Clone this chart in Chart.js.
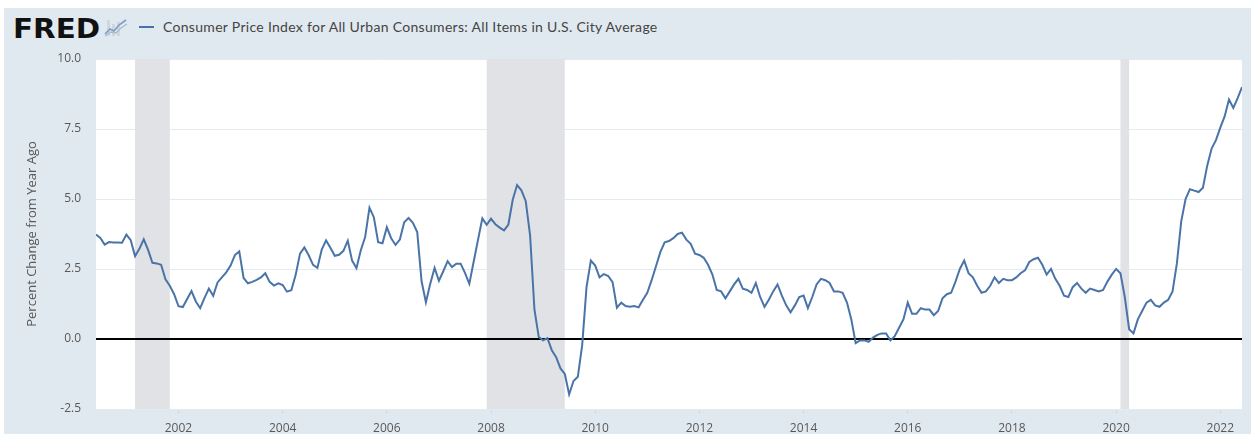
<!DOCTYPE html>
<html>
<head>
<meta charset="utf-8">
<script src="https://cdn.jsdelivr.net/npm/chart.js@4.4.1/dist/chart.umd.min.js"></script>
<style>
  body { margin: 0; background: #fff; width: 1251px; height: 434px; overflow: hidden; position: relative; }
  #panel { position: absolute; left: 4px; top: 8px; width: 1247px; height: 426px; background: #e1e9f0; }
  #chart { position: absolute; left: 0; top: 0; }
  #logo { position: absolute; left: 13px; top: 14px; font-family: "DejaVu Sans", sans-serif; font-weight: bold; font-size: 26px; letter-spacing: 0px; color: #111; transform: scaleX(1.13); transform-origin: left top; }
  #icon { position: absolute; left: 104px; top: 16px; }
  #legend { position: absolute; left: 139px; top: 18px; font-family: Lato, sans-serif; font-size: 14px; letter-spacing: 0.3px; color: #444; white-space: nowrap; }
  #legend .swatch { display: inline-block; width: 15px; height: 2px; background: #4572a7; vertical-align: middle; margin-right: 9px; position: relative; top: -1px; }
</style>
</head>
<body>
<div id="panel"></div>
<div id="logo">FRED</div>
<svg id="icon" width="24" height="22" viewBox="0 0 24 22">
  <rect x="3" y="4" width="3" height="16" fill="#cfd6de"/>
  <rect x="8" y="8" width="3" height="12" fill="#cfd6de"/>
  <rect x="13" y="6" width="3" height="14" fill="#cfd6de"/>
  <polyline points="1,18 6,13 10,15 15,9 22,4" fill="none" stroke="#7f9cc2" stroke-width="1.6"/>
  <polyline points="1,20 7,16 12,17 17,12 23,8" fill="none" stroke="#a9bbd2" stroke-width="1.3"/>
</svg>
<div id="legend"><span class="swatch"></span>Consumer Price Index for All Urban Consumers: All Items in U.S. City Average</div>
<canvas id="chart" width="1251" height="434"></canvas>
<script>
// CPI-U, percent change from year ago, monthly from June 2000
const startYear = 2000;
const startMonth = 6;

const cpi2000s = [
  3.73, 3.61, 3.37, 3.46, 3.45, 3.45, 3.44,
  3.73, 3.53, 2.96, 3.22, 3.56, 3.18, 2.72, 2.70, 2.65, 2.13, 1.90, 1.60,
  1.17, 1.14, 1.43, 1.71, 1.34, 1.10, 1.47, 1.80, 1.54, 2.02, 2.20, 2.38,
  2.62, 3.00, 3.13, 2.18, 1.99, 2.04, 2.11, 2.20, 2.35, 2.04, 1.91, 1.99,
  1.93, 1.69, 1.74, 2.29, 3.05, 3.27, 2.99, 2.65, 2.54, 3.19, 3.52, 3.26,
  2.97, 3.01, 3.15, 3.51, 2.80, 2.53, 3.17, 3.64, 4.69, 4.35, 3.46, 3.42,
  3.99, 3.60, 3.36, 3.55, 4.17, 4.32, 4.15, 3.82, 2.06, 1.31, 1.97, 2.54,
  2.08, 2.42, 2.78, 2.57, 2.69, 2.69, 2.36, 1.97, 2.76, 3.54, 4.31, 4.08,
  4.30, 4.10, 3.98, 3.88, 4.09, 4.97, 5.50, 5.31, 4.92, 3.70, 1.06, 0.07,
  -0.05, 0.03, -0.40, -0.65, -1.05, -1.25, -1.98, -1.50, -1.35, -0.22, 1.85, 2.80
];
const cpi2010s = [
  2.62, 2.20, 2.32, 2.25, 2.03, 1.12, 1.30, 1.18, 1.15, 1.18, 1.13, 1.40,
  1.65, 2.10, 2.60, 3.10, 3.45, 3.50, 3.60, 3.75, 3.80, 3.55, 3.40, 3.05,
  3.00, 2.90, 2.65, 2.30, 1.75, 1.70, 1.45, 1.70, 1.95, 2.15, 1.80, 1.75,
  1.65, 2.00, 1.50, 1.15, 1.40, 1.70, 1.95, 1.55, 1.20, 0.95, 1.20, 1.50,
  1.55, 1.10, 1.50, 1.95, 2.15, 2.10, 2.00, 1.70, 1.70, 1.65, 1.30, 0.70,
  -0.15, -0.05, -0.05, -0.10, 0.05, 0.15, 0.20, 0.20, -0.05, 0.10, 0.40, 0.70,
  1.30, 0.90, 0.90, 1.10, 1.05, 1.05, 0.85, 1.00, 1.45, 1.60, 1.65, 2.05,
  2.50, 2.80, 2.35, 2.20, 1.90, 1.65, 1.70, 1.90, 2.20, 2.00, 2.15, 2.10,
  2.10, 2.20, 2.35, 2.45, 2.75, 2.85, 2.90, 2.65, 2.30, 2.50, 2.15, 1.90,
  1.55, 1.50, 1.85, 2.00, 1.80, 1.65, 1.80, 1.75, 1.70, 1.75, 2.05, 2.30
];
const cpi2020s = [
  2.50, 2.35, 1.50, 0.35, 0.20, 0.70, 1.00, 1.30, 1.40, 1.20, 1.15, 1.30,
  1.40, 1.70, 2.70, 4.20, 5.00, 5.35, 5.30, 5.25, 5.40, 6.20, 6.80, 7.10,
  7.55, 7.95, 8.55, 8.25, 8.60, 9.00
];

// NBER recessions (peak month, trough month)
const recessions = [
  ['2001-03', '2001-11'],
  ['2007-12', '2009-06'],
  ['2020-02', '2020-04']
];

const xTickYears = [2002, 2004, 2006, 2008, 2010, 2012, 2014, 2016, 2018, 2020, 2022];
const yTicks = [-2.5, 0, 2.5, 5, 7.5, 10];

const seriesLabel = 'Consumer Price Index for All Urban Consumers: All Items in U.S. City Average';

function monthToYear(s) {
  const parts = s.split('-');
  return Number(parts[0]) + (Number(parts[1]) - 1) / 12;
}

const values = cpi2000s.concat(cpi2010s, cpi2020s);
const points = values.map((v, i) => ({
  x: startYear + (startMonth - 1 + i) / 12,
  y: v
}));

const shadingPlugin = {
  id: 'fredShading',
  beforeDraw(chart) {
    const a = chart.chartArea;
    const ctx = chart.ctx;
    ctx.save();
    ctx.fillStyle = '#ffffff';
    ctx.fillRect(a.left, a.top, a.right - a.left, a.bottom - a.top);
    ctx.restore();
  },
  beforeDatasetsDraw(chart) {
    const a = chart.chartArea;
    const ctx = chart.ctx;
    const xs = chart.scales.x;
    const ys = chart.scales.y;
    ctx.save();
    ctx.fillStyle = '#e1e2e6';
    recessions.forEach(r => {
      const x1 = Math.max(a.left, xs.getPixelForValue(monthToYear(r[0])));
      const x2 = Math.min(a.right, xs.getPixelForValue(monthToYear(r[1])));
      ctx.fillRect(x1, a.top, x2 - x1, a.bottom - a.top);
    });
    const y0 = ys.getPixelForValue(0);
    ctx.strokeStyle = '#000000';
    ctx.lineWidth = 2;
    ctx.beginPath();
    ctx.moveTo(a.left, y0);
    ctx.lineTo(a.right, y0);
    ctx.stroke();
    ctx.restore();
  }
};

new Chart(document.getElementById('chart'), {
  type: 'line',
  data: {
    datasets: [{
      label: seriesLabel,
      data: points,
      borderColor: '#4a74a8',
      borderWidth: 2,
      pointRadius: 0,
      tension: 0,
      fill: false
    }]
  },
  options: {
    responsive: false,
    animation: false,
    layout: { padding: { top: 59, right: 9, left: 0, bottom: 0 } },
    plugins: {
      legend: { display: false },
      tooltip: { enabled: false }
    },
    scales: {
      x: {
        type: 'linear',
        min: points[0].x,
        max: points[points.length - 1].x,
        afterBuildTicks: scale => { scale.ticks = xTickYears.map(v => ({ value: v })); },
        afterFit: scale => { scale.height = 25; },
        border: { display: false },
        grid: { drawOnChartArea: false, drawTicks: true, tickLength: 4, color: '#cdd6de' },
        ticks: {
          padding: 8,
          maxRotation: 0,
          color: '#595959',
          font: { family: "'Open Sans', sans-serif", size: 12 },
          callback: v => String(v)
        }
      },
      y: {
        min: -2.5,
        max: 10,
        afterBuildTicks: scale => { scale.ticks = yTicks.map(v => ({ value: v })); },
        afterFit: scale => { scale.width = 96; },
        border: { display: false },
        grid: {
          drawTicks: false,
          color: ctx => (ctx.tick && ctx.tick.value === 0) ? 'rgba(0,0,0,0)' : '#e4eaf0',
          lineWidth: 1
        },
        ticks: {
          padding: 15,
          color: '#595959',
          font: { family: "'Open Sans', sans-serif", size: 12 },
          callback: v => Number(v).toFixed(1)
        },
        title: {
          display: true,
          text: 'Percent Change from Year Ago',
          color: '#595959',
          font: { family: "'Open Sans', sans-serif", size: 13 },
          padding: { top: 24, bottom: 0 }
        }
      }
    }
  },
  plugins: [shadingPlugin]
});
</script>
</body>
</html>
